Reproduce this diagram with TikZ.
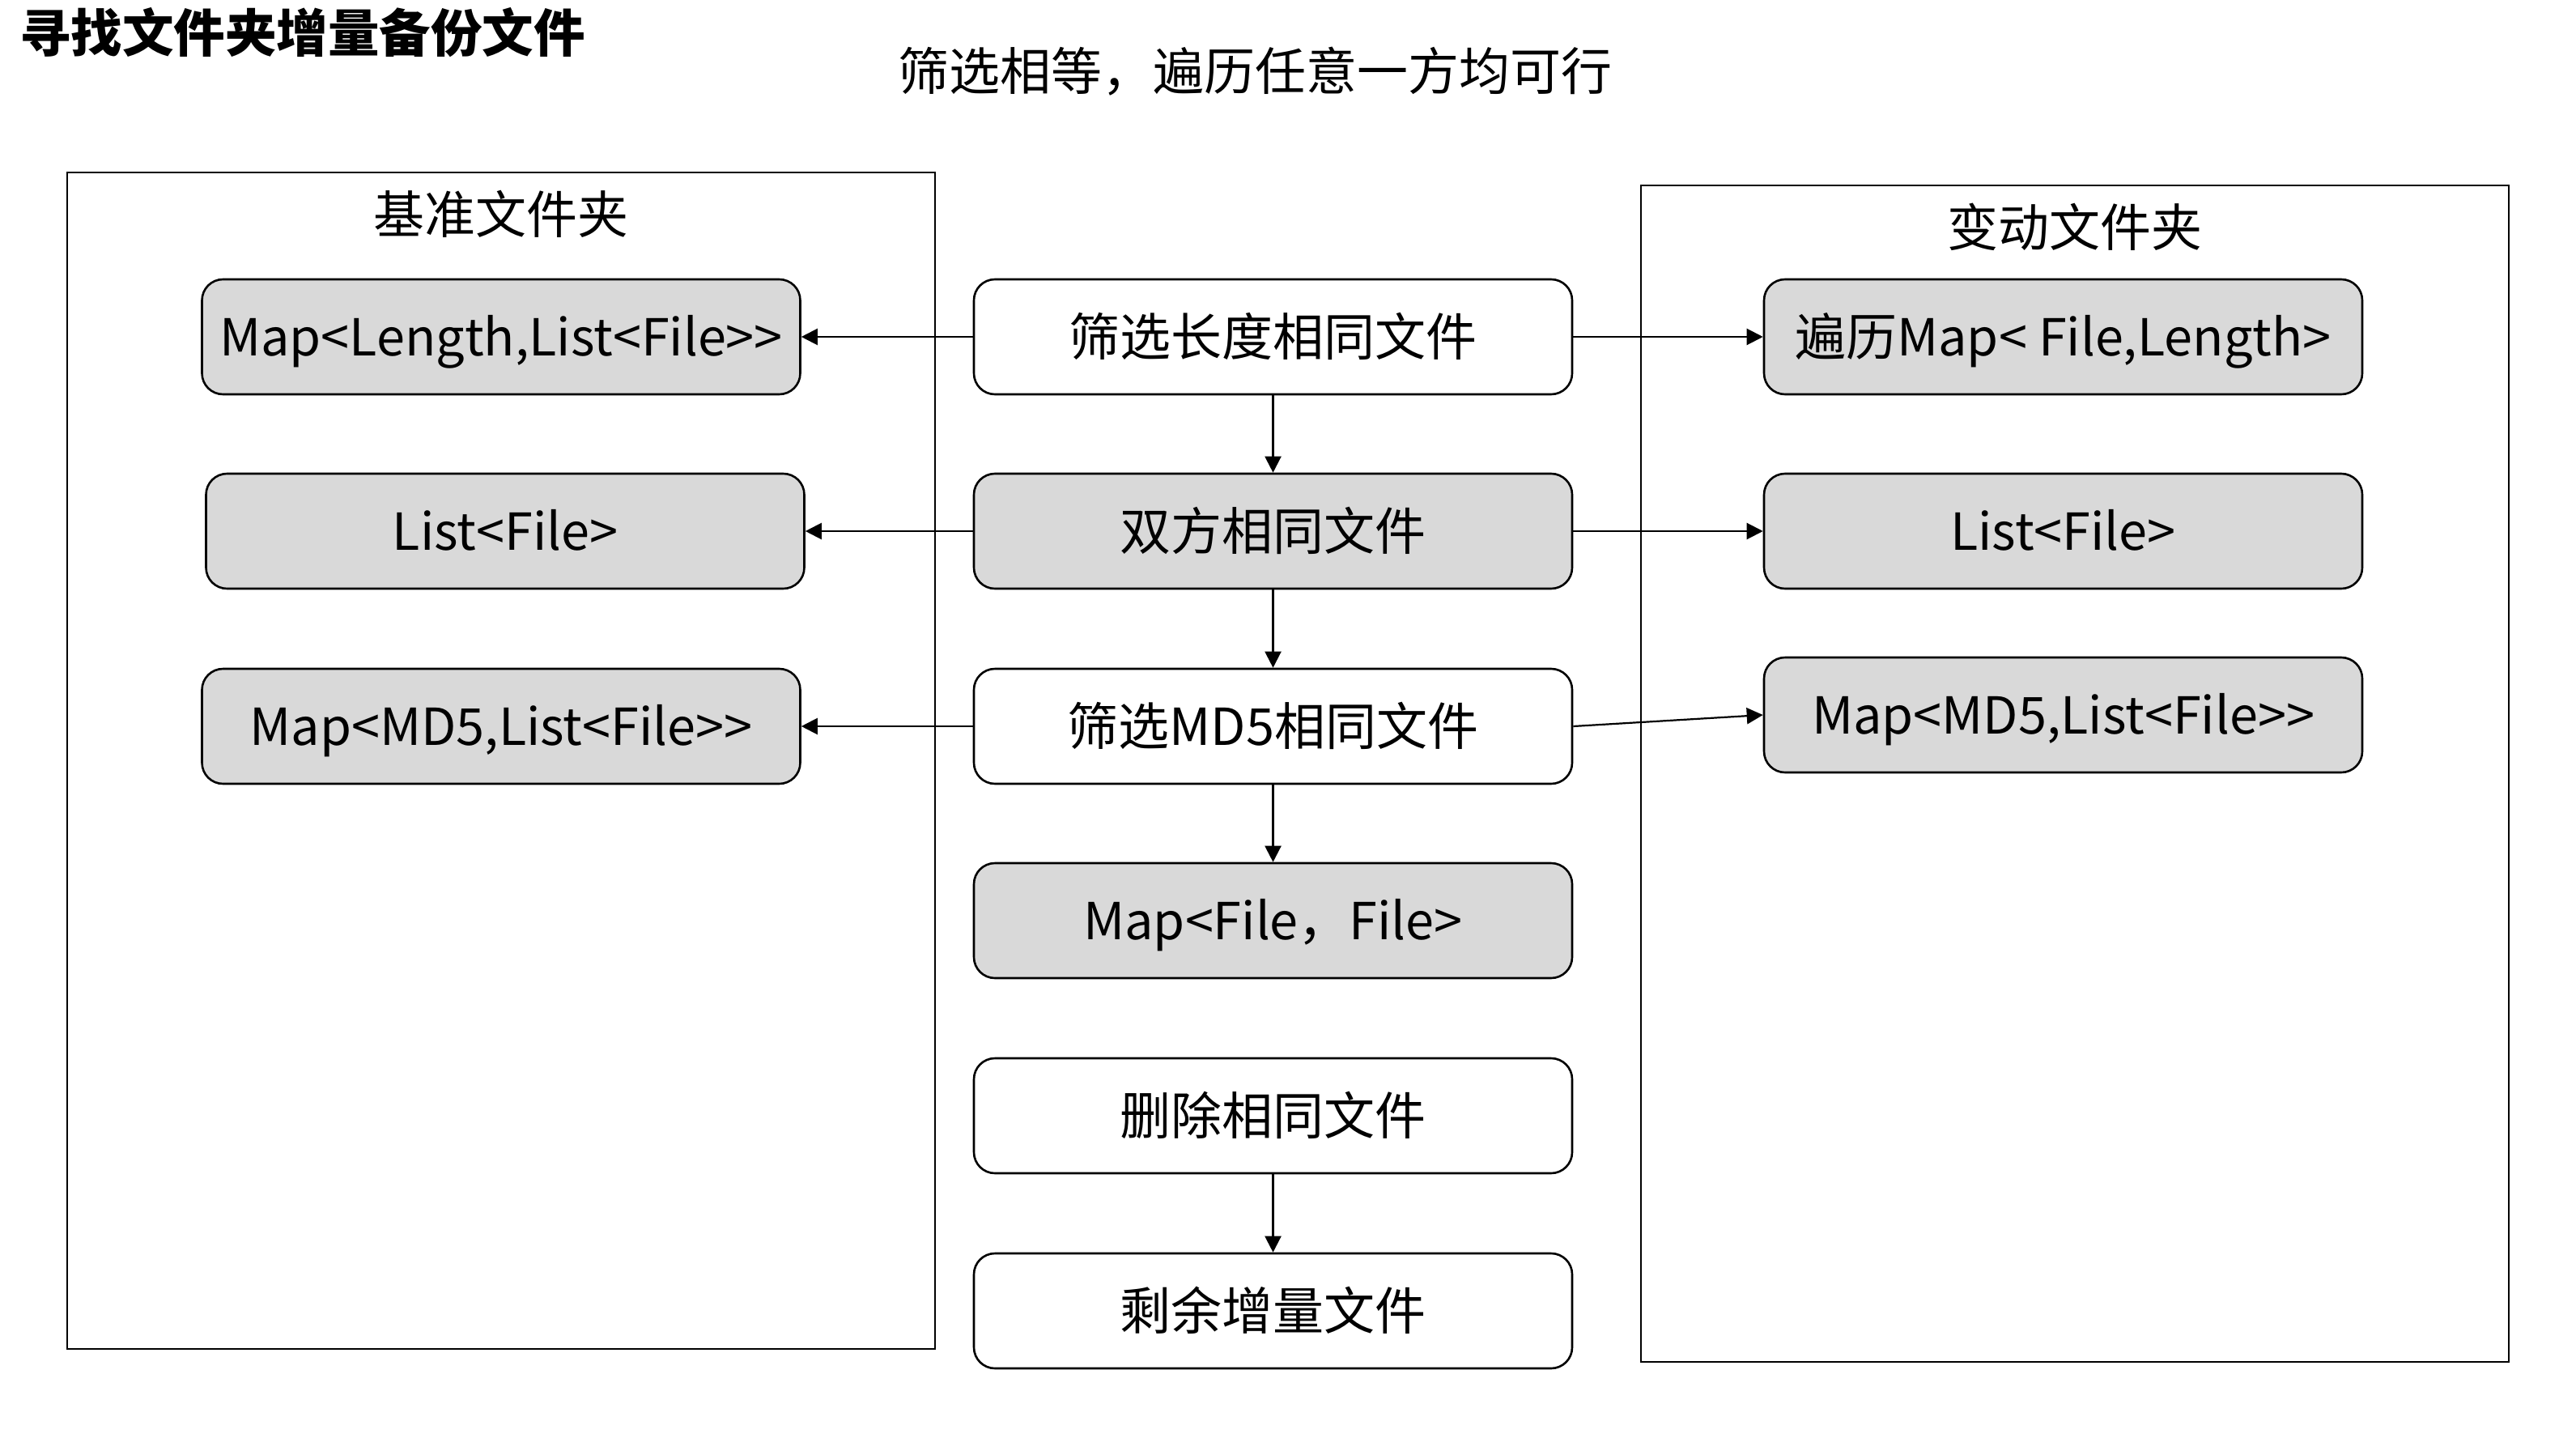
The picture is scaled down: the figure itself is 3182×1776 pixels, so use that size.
\documentclass[tikz,border=0pt]{standalone}
\usepackage{fontspec}
\setmainfont{Noto Sans CJK SC}
\usetikzlibrary{arrows.meta}
\definecolor{boxgray}{RGB}{217,217,217}
\newcommand{\gtgt}{>\kern0pt>}
\begin{document}
\begin{tikzpicture}[x=1pt,y=-1pt,
  container/.style={draw=black,line width=2.2pt},
  procbox/.style={draw=black,line width=2.6pt,rounded corners=26pt,fill=white,
     minimum width=739pt,minimum height=142pt,inner sep=0pt,
     text height=55pt,text depth=8pt,
     font=\fontsize{63}{70}\selectfont,text=black},
  databox/.style={procbox,fill=boxgray},
  flow/.style={line width=2.2pt,-{Triangle[length=20pt,width=20pt]}},
  lbl/.style={inner sep=0pt,font=\fontsize{63}{70}\selectfont}
]
\useasboundingbox (0,0) rectangle (3182,1776);
\fill[white] (0,0) rectangle (3182,1776);

\node[anchor=west,inner sep=0pt,font=\fontsize{63.5}{70}\selectfont\bfseries] (title) at (24,40) {寻找文件夹增量备份文件};
\node[lbl] (sub) at (1550,88) {筛选相等，遍历任意一方均可行};

% containers
\draw[container] (83,213) rectangle (1155,1666);
\node[lbl] (ltitle) at (619,264) {基准文件夹};
\draw[container] (2027,229) rectangle (3099,1682);
\node[lbl] (rtitle) at (2563,280) {变动文件夹};

% center column
\node[procbox] (c1) at (1572.5,416) {筛选长度相同文件};
\node[databox] (c2) at (1572.5,656) {双方相同文件};
\node[procbox] (c3) at (1572.5,897) {筛选MD5相同文件};
\node[databox] (c4) at (1572.5,1137) {Map<File，File>};
\node[procbox] (c5) at (1572.5,1378) {删除相同文件};
\node[procbox] (c6) at (1572.5,1619) {剩余增量文件};

% left column
\node[databox] (l1) at (619,416) {Map<Length,List<File\gtgt};
\node[databox] (l2) at (624,656) {List<File>};
\node[databox] (l3) at (619,897) {Map<MD5,List<File\gtgt};

% right column
\node[databox] (r1) at (2548.5,416) {遍历Map< File,Length>};
\node[databox] (r2) at (2548.5,656) {List<File>};
\node[databox] (r3) at (2548.5,883) {Map<MD5,List<File\gtgt};

% vertical flow
\draw[flow] (c1) -- (c2);
\draw[flow] (c2) -- (c3);
\draw[flow] (c3) -- (c4);
\draw[flow] (c5) -- (c6);

% horizontal flows
\draw[flow] (c1.west) -- (l1.east);
\draw[flow] (c2.west) -- (l2.east);
\draw[flow] (c3.west) -- (l3.east);
\draw[flow] (c1.east) -- (r1.west);
\draw[flow] (c2.east) -- (r2.west);
\draw[flow] (c3.east) -- (r3.west);
\end{tikzpicture}
\end{document}
